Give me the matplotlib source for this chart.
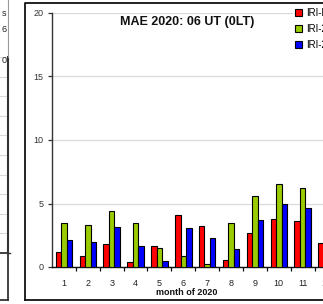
import numpy as np
import matplotlib
matplotlib.use("Agg")
import matplotlib.pyplot as plt
from matplotlib.lines import Line2D

plt.rcParams['font.family'] = ['Liberation Sans', 'DejaVu Sans']

# ---- data ----
months = [1, 2, 3, 4, 5, 6, 7, 8, 9, 10, 11, 12]
iri_plas = [1.16, 0.88, 1.78, 0.39, 1.65, 4.10, 3.20, 0.54, 2.70, 3.81, 3.61, 1.91]
iri_2016 = [3.45, 3.32, 4.38, 3.50, 1.47, 0.85, 0.20, 3.43, 5.57, 6.55, 6.21, np.nan]
iri_2020 = [2.10, 2.00, 3.12, 1.65, 0.49, 3.04, 2.32, 1.44, 3.71, 4.95, 4.61, np.nan]
series_names = ["IRI-Plas", "IRI-2016", "IRI-2020"]
series_colors = ["#FF0000", "#99CC00", "#0000FF"]
yticks = [0, 5, 10, 15, 20]
title = "MAE 2020: 06 UT (0LT)"
xlabel = "month of 2020"
left_legend_frag = ["s", "6", "0"]

W, H = 323, 304
fig = plt.figure(figsize=(W / 100, H / 100), dpi=100)
fig.patch.set_facecolor("white")

def fx(px):
    return px / W

def fy(py):
    return 1 - py / H

# ---- neighbour chart fragment on the left ----
axl = fig.add_axes([fx(-40), fy(253), fx(47.5), (253 - 57) / H])
axl.set_xlim(0, 1)
axl.set_ylim(0, 10)
axl.set_yticks(np.arange(1, 11))
axl.set_yticklabels([])
axl.tick_params(left=False, right=False, bottom=False, labelbottom=False)
axl.grid(axis="y", color="#d9d9d9", lw=0.8)
for s in ["top", "left"]:
    axl.spines[s].set_visible(False)
axl.spines["right"].set_color("#333333")
axl.spines["right"].set_linewidth(1.5)
axl.spines["bottom"].set_color("#333333")
axl.spines["bottom"].set_linewidth(1.3)
fig.add_artist(Line2D([fx(7.5), fx(7.5)], [fy(0), fy(57)], color="#9a9a9a", lw=0.8))
fig.add_artist(Line2D([fx(7.5), fx(7.5)], [fy(253), fy(300)], color="#333333", lw=1.3))
fig.add_artist(Line2D([fx(0), fx(7.5)], [fy(300), fy(300)], color="#333333", lw=1.3))
fig.add_artist(Line2D([fx(7.5), fx(9.5)], [fy(253), fy(253)], color="#333333", lw=1.0))
for t, yy in zip(left_legend_frag, [14, 29, 60]):
    fig.text(fx(6.5), fy(yy), t, ha="right", va="center", fontsize=6.5, color="#222222")

# ---- main chart frame ----
fig.add_artist(Line2D([fx(25), fx(25), fx(330)], [fy(300), fy(3), fy(3)], color="#111111", lw=1.3))
fig.add_artist(Line2D([fx(25), fx(330)], [fy(300), fy(300)], color="#111111", lw=1.3))

# ---- main axes ----
cat_w = 23.87
ax = fig.add_axes([fx(52), fy(267), fx(12 * cat_w), (267 - 13) / H])
ax.set_xlim(0.5, 12.5)
ax.set_ylim(0, 20)
x = np.array(months, dtype=float)
bw = 0.23
offsets = [-bw, 0, bw]
handles = []
for vals, off, col, name in zip([iri_plas, iri_2016, iri_2020], offsets, series_colors, series_names):
    v = np.array(vals, dtype=float)
    # soft shadow
    ax.bar(x + off + 0.04, v, width=bw, bottom=0, color="#b0b0b0", edgecolor="none", zorder=2)
    b = ax.bar(x + off, v, width=bw, color=col, edgecolor="black", linewidth=0.8, zorder=3, label=name)
    handles.append(b)

ax.set_yticks(yticks)
ax.set_yticklabels([str(t) for t in yticks], fontsize=6.5, color="#333333")
ax.grid(axis="y", color="#d9d9d9", lw=0.9, zorder=0)
ax.set_axisbelow(True)
ax.set_xticks(x)
ax.set_xticklabels([str(m) for m in months], fontsize=6.5, color="#222222")
ax.set_xticks(np.arange(1.5, 12.5, 1.0), minor=True)
ax.tick_params(axis="x", which="major", length=0, pad=9)
ax.tick_params(axis="x", which="minor", length=3, width=0.9, color="#111111", direction="out")
ax.tick_params(axis="y", length=3, width=0.9, color="#333333", direction="out", pad=3)
for s in ["top", "right"]:
    ax.spines[s].set_visible(False)
ax.spines["left"].set_color("#333333")
ax.spines["left"].set_linewidth(1.0)
ax.spines["bottom"].set_color("#111111")
ax.spines["bottom"].set_linewidth(1.0)

fig.text(fx(187), fy(22), title, ha="center", va="center", fontsize=9, fontweight="bold", color="#111111")
fig.text(fx(187), fy(292.5), xlabel, ha="center", va="center", fontsize=6.5, fontweight="bold", color="#111111")

leg = fig.legend(handles=handles, labels=series_names, loc="upper left",
                 bbox_to_anchor=(fx(293), fy(6)), bbox_transform=fig.transFigure,
                 frameon=True, fontsize=7, handlelength=0.75, handleheight=0.75,
                 handletextpad=0.35, labelspacing=0.6, borderpad=0.2, borderaxespad=0)
leg.get_frame().set_facecolor("white")
leg.get_frame().set_edgecolor("none")

fig.savefig("out.png", dpi=100)
